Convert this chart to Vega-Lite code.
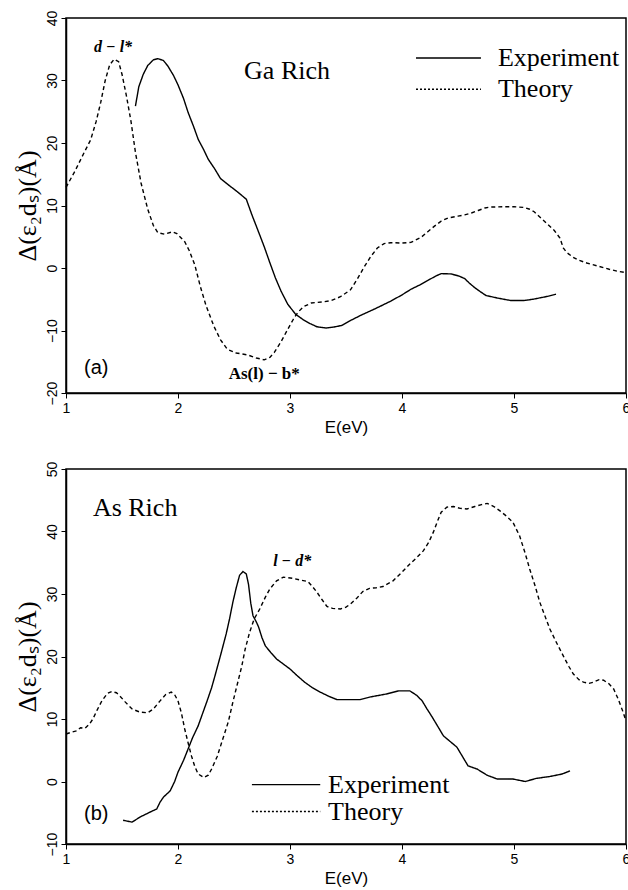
{
  "$schema": "https://vega.github.io/schema/vega-lite/v6.json",
  "background": "white",
  "padding": {"top": 9, "left": 13, "right": 0, "bottom": 0},
  "spacing": 24,
  "datasets": {
    "ga": [
      {"E":1.0,"v":12.9,"s":"Theory"},{"E":1.08,"v":15.5,"s":"Theory"},{"E":1.16,"v":18.4,"s":"Theory"},{"E":1.22,"v":20.5,"s":"Theory"},{"E":1.27,"v":23.5,"s":"Theory"},{"E":1.31,"v":26.5,"s":"Theory"},{"E":1.35,"v":30,"s":"Theory"},{"E":1.39,"v":32.5,"s":"Theory"},{"E":1.43,"v":33.4,"s":"Theory"},{"E":1.47,"v":33,"s":"Theory"},{"E":1.5,"v":31,"s":"Theory"},{"E":1.54,"v":27.5,"s":"Theory"},{"E":1.58,"v":23.5,"s":"Theory"},{"E":1.62,"v":18.5,"s":"Theory"},{"E":1.67,"v":13.6,"s":"Theory"},{"E":1.73,"v":9.4,"s":"Theory"},{"E":1.78,"v":6.8,"s":"Theory"},{"E":1.82,"v":5.65,"s":"Theory"},{"E":1.88,"v":5.4,"s":"Theory"},{"E":1.95,"v":5.8,"s":"Theory"},{"E":1.99,"v":5.5,"s":"Theory"},{"E":2.06,"v":4.2,"s":"Theory"},{"E":2.1,"v":2.8,"s":"Theory"},{"E":2.15,"v":0.5,"s":"Theory"},{"E":2.2,"v":-3,"s":"Theory"},{"E":2.25,"v":-6,"s":"Theory"},{"E":2.32,"v":-9.3,"s":"Theory"},{"E":2.38,"v":-11.5,"s":"Theory"},{"E":2.44,"v":-13,"s":"Theory"},{"E":2.52,"v":-13.6,"s":"Theory"},{"E":2.62,"v":-13.9,"s":"Theory"},{"E":2.7,"v":-14.4,"s":"Theory"},{"E":2.77,"v":-14.7,"s":"Theory"},{"E":2.82,"v":-14.3,"s":"Theory"},{"E":2.86,"v":-13.5,"s":"Theory"},{"E":2.92,"v":-11.8,"s":"Theory"},{"E":2.98,"v":-9.8,"s":"Theory"},{"E":3.03,"v":-8.2,"s":"Theory"},{"E":3.07,"v":-7.1,"s":"Theory"},{"E":3.12,"v":-6.2,"s":"Theory"},{"E":3.19,"v":-5.6,"s":"Theory"},{"E":3.3,"v":-5.4,"s":"Theory"},{"E":3.37,"v":-5.2,"s":"Theory"},{"E":3.45,"v":-4.6,"s":"Theory"},{"E":3.54,"v":-3.5,"s":"Theory"},{"E":3.6,"v":-1.8,"s":"Theory"},{"E":3.66,"v":0.1,"s":"Theory"},{"E":3.72,"v":1.8,"s":"Theory"},{"E":3.78,"v":3.2,"s":"Theory"},{"E":3.84,"v":3.9,"s":"Theory"},{"E":3.9,"v":4.05,"s":"Theory"},{"E":4.0,"v":4.0,"s":"Theory"},{"E":4.08,"v":4.1,"s":"Theory"},{"E":4.17,"v":4.9,"s":"Theory"},{"E":4.23,"v":5.8,"s":"Theory"},{"E":4.29,"v":6.7,"s":"Theory"},{"E":4.35,"v":7.5,"s":"Theory"},{"E":4.41,"v":8.0,"s":"Theory"},{"E":4.5,"v":8.3,"s":"Theory"},{"E":4.56,"v":8.5,"s":"Theory"},{"E":4.62,"v":8.8,"s":"Theory"},{"E":4.68,"v":9.2,"s":"Theory"},{"E":4.74,"v":9.6,"s":"Theory"},{"E":4.79,"v":9.75,"s":"Theory"},{"E":4.9,"v":9.8,"s":"Theory"},{"E":5.0,"v":9.8,"s":"Theory"},{"E":5.09,"v":9.7,"s":"Theory"},{"E":5.14,"v":9.4,"s":"Theory"},{"E":5.18,"v":9.0,"s":"Theory"},{"E":5.24,"v":8.0,"s":"Theory"},{"E":5.3,"v":7.0,"s":"Theory"},{"E":5.36,"v":6.0,"s":"Theory"},{"E":5.41,"v":4.8,"s":"Theory"},{"E":5.44,"v":3.2,"s":"Theory"},{"E":5.47,"v":2.5,"s":"Theory"},{"E":5.52,"v":1.8,"s":"Theory"},{"E":5.57,"v":1.3,"s":"Theory"},{"E":5.65,"v":0.8,"s":"Theory"},{"E":5.75,"v":0.3,"s":"Theory"},{"E":5.85,"v":-0.2,"s":"Theory"},{"E":5.92,"v":-0.5,"s":"Theory"},{"E":6.0,"v":-0.75,"s":"Theory"},
      {"E":1.62,"v":25.9,"s":"Experiment"},{"E":1.65,"v":29.0,"s":"Experiment"},{"E":1.69,"v":31.0,"s":"Experiment"},{"E":1.73,"v":32.4,"s":"Experiment"},{"E":1.78,"v":33.3,"s":"Experiment"},{"E":1.82,"v":33.5,"s":"Experiment"},{"E":1.87,"v":33.2,"s":"Experiment"},{"E":1.91,"v":32.3,"s":"Experiment"},{"E":1.96,"v":30.8,"s":"Experiment"},{"E":2.0,"v":29.3,"s":"Experiment"},{"E":2.05,"v":27.1,"s":"Experiment"},{"E":2.09,"v":24.9,"s":"Experiment"},{"E":2.14,"v":22.6,"s":"Experiment"},{"E":2.18,"v":20.6,"s":"Experiment"},{"E":2.23,"v":18.9,"s":"Experiment"},{"E":2.27,"v":17.4,"s":"Experiment"},{"E":2.33,"v":15.8,"s":"Experiment"},{"E":2.38,"v":14.3,"s":"Experiment"},{"E":2.45,"v":13.3,"s":"Experiment"},{"E":2.53,"v":12.2,"s":"Experiment"},{"E":2.61,"v":11.0,"s":"Experiment"},{"E":2.66,"v":8.5,"s":"Experiment"},{"E":2.71,"v":6.2,"s":"Experiment"},{"E":2.77,"v":3.4,"s":"Experiment"},{"E":2.82,"v":0.85,"s":"Experiment"},{"E":2.87,"v":-1.6,"s":"Experiment"},{"E":2.92,"v":-3.7,"s":"Experiment"},{"E":2.98,"v":-5.8,"s":"Experiment"},{"E":3.05,"v":-7.4,"s":"Experiment"},{"E":3.12,"v":-8.3,"s":"Experiment"},{"E":3.18,"v":-8.9,"s":"Experiment"},{"E":3.24,"v":-9.4,"s":"Experiment"},{"E":3.32,"v":-9.6,"s":"Experiment"},{"E":3.39,"v":-9.45,"s":"Experiment"},{"E":3.46,"v":-9.2,"s":"Experiment"},{"E":3.54,"v":-8.4,"s":"Experiment"},{"E":3.64,"v":-7.5,"s":"Experiment"},{"E":3.75,"v":-6.6,"s":"Experiment"},{"E":3.82,"v":-6.0,"s":"Experiment"},{"E":3.9,"v":-5.3,"s":"Experiment"},{"E":4.0,"v":-4.3,"s":"Experiment"},{"E":4.08,"v":-3.4,"s":"Experiment"},{"E":4.16,"v":-2.7,"s":"Experiment"},{"E":4.23,"v":-2.0,"s":"Experiment"},{"E":4.3,"v":-1.3,"s":"Experiment"},{"E":4.35,"v":-0.9,"s":"Experiment"},{"E":4.44,"v":-0.95,"s":"Experiment"},{"E":4.51,"v":-1.3,"s":"Experiment"},{"E":4.56,"v":-1.7,"s":"Experiment"},{"E":4.6,"v":-2.4,"s":"Experiment"},{"E":4.65,"v":-3.15,"s":"Experiment"},{"E":4.7,"v":-3.8,"s":"Experiment"},{"E":4.75,"v":-4.4,"s":"Experiment"},{"E":4.85,"v":-4.8,"s":"Experiment"},{"E":4.97,"v":-5.2,"s":"Experiment"},{"E":5.09,"v":-5.2,"s":"Experiment"},{"E":5.17,"v":-5.0,"s":"Experiment"},{"E":5.24,"v":-4.75,"s":"Experiment"},{"E":5.31,"v":-4.5,"s":"Experiment"},{"E":5.375,"v":-4.2,"s":"Experiment"}
    ],
    "as": [
      {"E":1.0,"v":7.6,"s":"Theory"},{"E":1.05,"v":7.9,"s":"Theory"},{"E":1.095,"v":8.1,"s":"Theory"},{"E":1.13,"v":8.6,"s":"Theory"},{"E":1.17,"v":8.5,"s":"Theory"},{"E":1.21,"v":9.2,"s":"Theory"},{"E":1.24,"v":10.0,"s":"Theory"},{"E":1.28,"v":11.5,"s":"Theory"},{"E":1.32,"v":12.9,"s":"Theory"},{"E":1.37,"v":14.1,"s":"Theory"},{"E":1.41,"v":14.4,"s":"Theory"},{"E":1.45,"v":14.2,"s":"Theory"},{"E":1.48,"v":13.7,"s":"Theory"},{"E":1.53,"v":12.7,"s":"Theory"},{"E":1.59,"v":11.6,"s":"Theory"},{"E":1.66,"v":11.1,"s":"Theory"},{"E":1.73,"v":11.0,"s":"Theory"},{"E":1.78,"v":11.6,"s":"Theory"},{"E":1.84,"v":12.9,"s":"Theory"},{"E":1.89,"v":13.9,"s":"Theory"},{"E":1.94,"v":14.3,"s":"Theory"},{"E":1.97,"v":13.9,"s":"Theory"},{"E":2.0,"v":12.9,"s":"Theory"},{"E":2.03,"v":11.0,"s":"Theory"},{"E":2.06,"v":8.4,"s":"Theory"},{"E":2.09,"v":6.2,"s":"Theory"},{"E":2.12,"v":4.1,"s":"Theory"},{"E":2.15,"v":2.4,"s":"Theory"},{"E":2.18,"v":1.2,"s":"Theory"},{"E":2.23,"v":0.65,"s":"Theory"},{"E":2.27,"v":1.0,"s":"Theory"},{"E":2.3,"v":2.0,"s":"Theory"},{"E":2.35,"v":4.0,"s":"Theory"},{"E":2.4,"v":6.8,"s":"Theory"},{"E":2.45,"v":9.6,"s":"Theory"},{"E":2.49,"v":12.7,"s":"Theory"},{"E":2.53,"v":15.6,"s":"Theory"},{"E":2.57,"v":18.5,"s":"Theory"},{"E":2.6,"v":21.2,"s":"Theory"},{"E":2.64,"v":23.9,"s":"Theory"},{"E":2.68,"v":26.0,"s":"Theory"},{"E":2.73,"v":27.6,"s":"Theory"},{"E":2.78,"v":29.5,"s":"Theory"},{"E":2.82,"v":30.8,"s":"Theory"},{"E":2.88,"v":32.1,"s":"Theory"},{"E":2.94,"v":32.7,"s":"Theory"},{"E":3.03,"v":32.5,"s":"Theory"},{"E":3.1,"v":32.2,"s":"Theory"},{"E":3.16,"v":32.0,"s":"Theory"},{"E":3.2,"v":31.2,"s":"Theory"},{"E":3.24,"v":30.3,"s":"Theory"},{"E":3.29,"v":29.0,"s":"Theory"},{"E":3.33,"v":28.0,"s":"Theory"},{"E":3.38,"v":27.7,"s":"Theory"},{"E":3.45,"v":27.6,"s":"Theory"},{"E":3.5,"v":27.9,"s":"Theory"},{"E":3.54,"v":28.4,"s":"Theory"},{"E":3.6,"v":29.4,"s":"Theory"},{"E":3.65,"v":30.4,"s":"Theory"},{"E":3.71,"v":30.9,"s":"Theory"},{"E":3.77,"v":31.0,"s":"Theory"},{"E":3.83,"v":31.2,"s":"Theory"},{"E":3.92,"v":32.1,"s":"Theory"},{"E":4.0,"v":33.5,"s":"Theory"},{"E":4.07,"v":34.8,"s":"Theory"},{"E":4.13,"v":35.8,"s":"Theory"},{"E":4.19,"v":36.9,"s":"Theory"},{"E":4.24,"v":38.3,"s":"Theory"},{"E":4.28,"v":39.9,"s":"Theory"},{"E":4.32,"v":41.8,"s":"Theory"},{"E":4.35,"v":43.1,"s":"Theory"},{"E":4.4,"v":43.9,"s":"Theory"},{"E":4.46,"v":44.0,"s":"Theory"},{"E":4.52,"v":43.7,"s":"Theory"},{"E":4.58,"v":43.6,"s":"Theory"},{"E":4.65,"v":44.0,"s":"Theory"},{"E":4.71,"v":44.3,"s":"Theory"},{"E":4.76,"v":44.5,"s":"Theory"},{"E":4.82,"v":44.0,"s":"Theory"},{"E":4.875,"v":43.3,"s":"Theory"},{"E":4.93,"v":42.5,"s":"Theory"},{"E":4.99,"v":41.5,"s":"Theory"},{"E":5.05,"v":39.3,"s":"Theory"},{"E":5.1,"v":36.5,"s":"Theory"},{"E":5.14,"v":34.0,"s":"Theory"},{"E":5.19,"v":31.2,"s":"Theory"},{"E":5.23,"v":28.7,"s":"Theory"},{"E":5.28,"v":26.3,"s":"Theory"},{"E":5.32,"v":24.4,"s":"Theory"},{"E":5.38,"v":22.2,"s":"Theory"},{"E":5.44,"v":20.1,"s":"Theory"},{"E":5.49,"v":18.4,"s":"Theory"},{"E":5.53,"v":17.2,"s":"Theory"},{"E":5.58,"v":16.3,"s":"Theory"},{"E":5.62,"v":15.9,"s":"Theory"},{"E":5.67,"v":15.7,"s":"Theory"},{"E":5.71,"v":15.9,"s":"Theory"},{"E":5.76,"v":16.3,"s":"Theory"},{"E":5.8,"v":16.2,"s":"Theory"},{"E":5.85,"v":15.6,"s":"Theory"},{"E":5.89,"v":14.8,"s":"Theory"},{"E":5.93,"v":13.2,"s":"Theory"},{"E":5.97,"v":11.3,"s":"Theory"},{"E":6.0,"v":9.7,"s":"Theory"},
      {"E":1.51,"v":-6.2,"s":"Experiment"},{"E":1.59,"v":-6.5,"s":"Experiment"},{"E":1.66,"v":-5.7,"s":"Experiment"},{"E":1.75,"v":-4.9,"s":"Experiment"},{"E":1.81,"v":-4.4,"s":"Experiment"},{"E":1.84,"v":-3.3,"s":"Experiment"},{"E":1.87,"v":-2.5,"s":"Experiment"},{"E":1.93,"v":-1.5,"s":"Experiment"},{"E":1.97,"v":0.0,"s":"Experiment"},{"E":2.0,"v":1.5,"s":"Experiment"},{"E":2.05,"v":3.4,"s":"Experiment"},{"E":2.09,"v":5.2,"s":"Experiment"},{"E":2.13,"v":7.0,"s":"Experiment"},{"E":2.18,"v":8.9,"s":"Experiment"},{"E":2.22,"v":10.9,"s":"Experiment"},{"E":2.26,"v":12.9,"s":"Experiment"},{"E":2.3,"v":15.0,"s":"Experiment"},{"E":2.33,"v":16.9,"s":"Experiment"},{"E":2.38,"v":20.2,"s":"Experiment"},{"E":2.43,"v":23.6,"s":"Experiment"},{"E":2.46,"v":26.0,"s":"Experiment"},{"E":2.49,"v":28.7,"s":"Experiment"},{"E":2.52,"v":31.0,"s":"Experiment"},{"E":2.55,"v":33.0,"s":"Experiment"},{"E":2.58,"v":33.6,"s":"Experiment"},{"E":2.61,"v":33.2,"s":"Experiment"},{"E":2.63,"v":31.5,"s":"Experiment"},{"E":2.65,"v":28.5,"s":"Experiment"},{"E":2.67,"v":26.5,"s":"Experiment"},{"E":2.7,"v":25.5,"s":"Experiment"},{"E":2.72,"v":24.7,"s":"Experiment"},{"E":2.75,"v":23.0,"s":"Experiment"},{"E":2.78,"v":21.7,"s":"Experiment"},{"E":2.83,"v":20.6,"s":"Experiment"},{"E":2.88,"v":19.6,"s":"Experiment"},{"E":2.94,"v":18.8,"s":"Experiment"},{"E":3.0,"v":18.0,"s":"Experiment"},{"E":3.06,"v":17.0,"s":"Experiment"},{"E":3.13,"v":15.9,"s":"Experiment"},{"E":3.2,"v":15.0,"s":"Experiment"},{"E":3.27,"v":14.3,"s":"Experiment"},{"E":3.35,"v":13.6,"s":"Experiment"},{"E":3.42,"v":13.1,"s":"Experiment"},{"E":3.54,"v":13.1,"s":"Experiment"},{"E":3.625,"v":13.1,"s":"Experiment"},{"E":3.71,"v":13.5,"s":"Experiment"},{"E":3.86,"v":14.0,"s":"Experiment"},{"E":3.97,"v":14.5,"s":"Experiment"},{"E":4.07,"v":14.5,"s":"Experiment"},{"E":4.13,"v":13.8,"s":"Experiment"},{"E":4.18,"v":12.9,"s":"Experiment"},{"E":4.22,"v":11.7,"s":"Experiment"},{"E":4.27,"v":10.3,"s":"Experiment"},{"E":4.32,"v":8.8,"s":"Experiment"},{"E":4.37,"v":7.3,"s":"Experiment"},{"E":4.43,"v":6.4,"s":"Experiment"},{"E":4.49,"v":5.5,"s":"Experiment"},{"E":4.54,"v":4.0,"s":"Experiment"},{"E":4.59,"v":2.5,"s":"Experiment"},{"E":4.67,"v":2.0,"s":"Experiment"},{"E":4.76,"v":1.0,"s":"Experiment"},{"E":4.85,"v":0.4,"s":"Experiment"},{"E":4.99,"v":0.4,"s":"Experiment"},{"E":5.1,"v":0.0,"s":"Experiment"},{"E":5.2,"v":0.5,"s":"Experiment"},{"E":5.32,"v":0.8,"s":"Experiment"},{"E":5.43,"v":1.2,"s":"Experiment"},{"E":5.5,"v":1.7,"s":"Experiment"}
    ],
    "legRuleA": [
      {"E":4.125,"E2":4.705,"v":33.6,"s":"legSolid"},
      {"E":4.125,"E2":4.705,"v":28.6,"s":"legDot"}
    ],
    "legTextA": [
      {"E":4.857,"v":33.6,"t":"Experiment"},
      {"E":4.857,"v":28.6,"t":"Theory"}
    ],
    "legRuleB": [
      {"E":2.66,"E2":3.27,"v":-0.5,"s":"legSolid"},
      {"E":2.66,"E2":3.27,"v":-4.8,"s":"legDot"}
    ],
    "legTextB": [
      {"E":3.34,"v":-0.6,"t":"Experiment"},
      {"E":3.34,"v":-4.9,"t":"Theory"}
    ]
  },
  "vconcat": [
    {
      "width": 560,
      "height": 375,
      "encoding": {
        "x": {"field": "E", "type": "quantitative", "scale": {"domain": [1, 6], "nice": false, "zero": false},
              "axis": {"values": [1, 2, 3, 4, 5, 6], "title": "E(eV)", "titleFont": "Liberation Sans", "titleFontSize": 17, "titleFontWeight": "normal", "titlePadding": 4, "labelPadding": 3}},
        "y": {"field": "v", "type": "quantitative", "scale": {"domain": [-20, 40], "nice": false, "zero": false},
              "axis": {"values": [-20, -10, 0, 10, 20, 30, 40], "title": "Δ(ε₂dₛ)(Å)", "titleFont": "Liberation Serif", "titleFontSize": 26, "titleFontWeight": "normal", "titlePadding": 5, "labelAngle": -90, "labelAlign": "center", "labelBaseline": "alphabetic", "labelPadding": 5}}
      },
      "layer": [
        {"data": {"name": "ga"}, "mark": {"type": "line", "color": "black", "strokeWidth": 1.4},
         "encoding": {"strokeDash": {"field": "s", "type": "nominal", "scale": {"domain": ["Experiment", "Theory", "legSolid", "legDot"], "range": [[1, 0], [4, 3], [1, 0], [2, 2]]}, "legend": null}}},
        {"data": {"name": "legRuleA"}, "mark": {"type": "rule", "color": "black", "strokeWidth": 1.4},
         "encoding": {"x2": {"field": "E2"}, "strokeDash": {"field": "s", "type": "nominal", "scale": {"domain": ["Experiment", "Theory", "legSolid", "legDot"], "range": [[1, 0], [4, 3], [1, 0], [2, 2]]}, "legend": null}}},
        {"data": {"name": "legTextA"}, "mark": {"type": "text", "align": "left", "baseline": "middle", "font": "Liberation Serif", "fontSize": 26, "color": "black"},
         "encoding": {"text": {"field": "t"}}},
        {"data": {"values": [{"E": 2.59, "v": 31.5, "t": "Ga Rich"}]}, "mark": {"type": "text", "align": "left", "baseline": "middle", "font": "Liberation Serif", "fontSize": 26, "color": "black"},
         "encoding": {"text": {"field": "t"}}},
        {"data": {"values": [{"E": 1.42, "v": 35.4, "t": "d − l*"}]}, "mark": {"type": "text", "align": "center", "baseline": "middle", "font": "Liberation Serif", "fontSize": 16, "fontStyle": "italic", "fontWeight": "bold", "color": "black"},
         "encoding": {"text": {"field": "t"}}},
        {"data": {"values": [{"E": 2.77, "v": -16.9, "t": "As(l) − b*"}]}, "mark": {"type": "text", "align": "center", "baseline": "middle", "font": "Liberation Serif", "fontSize": 17, "fontWeight": "bold", "color": "black"},
         "encoding": {"text": {"field": "t"}}},
        {"data": {"values": [{"E": 1.27, "v": -16.0, "t": "(a)"}]}, "mark": {"type": "text", "align": "center", "baseline": "middle", "font": "Liberation Sans", "fontSize": 20, "color": "black"},
         "encoding": {"text": {"field": "t"}}}
      ]
    },
    {
      "width": 560,
      "height": 375,
      "encoding": {
        "x": {"field": "E", "type": "quantitative", "scale": {"domain": [1, 6], "nice": false, "zero": false},
              "axis": {"values": [1, 2, 3, 4, 5, 6], "title": "E(eV)", "titleFont": "Liberation Sans", "titleFontSize": 17, "titleFontWeight": "normal", "titlePadding": 4, "labelPadding": 3}},
        "y": {"field": "v", "type": "quantitative", "scale": {"domain": [-10, 50], "nice": false, "zero": false},
              "axis": {"values": [-10, 0, 10, 20, 30, 40, 50], "title": "Δ(ε₂dₛ)(Å)", "titleFont": "Liberation Serif", "titleFontSize": 26, "titleFontWeight": "normal", "titlePadding": 5, "labelAngle": -90, "labelAlign": "center", "labelBaseline": "alphabetic", "labelPadding": 5}}
      },
      "layer": [
        {"data": {"name": "as"}, "mark": {"type": "line", "color": "black", "strokeWidth": 1.4},
         "encoding": {"strokeDash": {"field": "s", "type": "nominal", "scale": {"domain": ["Experiment", "Theory", "legSolid", "legDot"], "range": [[1, 0], [4, 3], [1, 0], [2, 2]]}, "legend": null}}},
        {"data": {"name": "legRuleB"}, "mark": {"type": "rule", "color": "black", "strokeWidth": 1.4},
         "encoding": {"x2": {"field": "E2"}, "strokeDash": {"field": "s", "type": "nominal", "scale": {"domain": ["Experiment", "Theory", "legSolid", "legDot"], "range": [[1, 0], [4, 3], [1, 0], [2, 2]]}, "legend": null}}},
        {"data": {"name": "legTextB"}, "mark": {"type": "text", "align": "left", "baseline": "middle", "font": "Liberation Serif", "fontSize": 26, "color": "black"},
         "encoding": {"text": {"field": "t"}}},
        {"data": {"values": [{"E": 1.24, "v": 43.7, "t": "As Rich"}]}, "mark": {"type": "text", "align": "left", "baseline": "middle", "font": "Liberation Serif", "fontSize": 26, "color": "black"},
         "encoding": {"text": {"field": "t"}}},
        {"data": {"values": [{"E": 3.02, "v": 35.3, "t": "l − d*"}]}, "mark": {"type": "text", "align": "center", "baseline": "middle", "font": "Liberation Serif", "fontSize": 16, "fontStyle": "italic", "fontWeight": "bold", "color": "black"},
         "encoding": {"text": {"field": "t"}}},
        {"data": {"values": [{"E": 1.27, "v": -5.2, "t": "(b)"}]}, "mark": {"type": "text", "align": "center", "baseline": "middle", "font": "Liberation Sans", "fontSize": 20, "color": "black"},
         "encoding": {"text": {"field": "t"}}}
      ]
    }
  ],
  "config": {
    "view": {"stroke": "black", "strokeWidth": 1.5},
    "axis": {"grid": false, "domainColor": "black", "domainWidth": 1.5, "tickColor": "black", "tickSize": 5, "tickWidth": 1, "labelFont": "Liberation Sans", "labelFontSize": 14, "labelColor": "black", "titleColor": "black", "labelFlush": false, "labelOverlap": false}
  }
}
